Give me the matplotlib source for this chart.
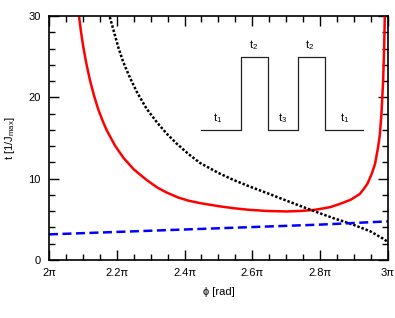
import matplotlib
matplotlib.use("Agg")
import matplotlib.pyplot as plt
from matplotlib.ticker import MultipleLocator, FuncFormatter

plt.rcParams['font.family'] = ['Liberation Sans', 'DejaVu Sans']
plt.rcParams['mathtext.default'] = 'regular'

# phi in units of pi
red_phi = [2.085, 2.0885, 2.095, 2.1013, 2.11, 2.121, 2.133, 2.1455, 2.16, 2.170, 2.195,
           2.22, 2.25, 2.288, 2.32, 2.347, 2.38, 2.411, 2.445, 2.50, 2.544, 2.588, 2.642,
           2.70, 2.74, 2.78, 2.799, 2.83, 2.858, 2.89, 2.917, 2.93, 2.94, 2.952, 2.962,
           2.971, 2.976, 2.981, 2.986, 2.989, 2.991, 2.993]
red_t = [31.1, 30.0, 27.9, 26.2, 24.2, 22.1, 20.2, 18.5, 16.95, 15.98, 14.05,
         12.55, 11.15, 9.84, 8.9, 8.3, 7.7, 7.3, 7.0, 6.62, 6.37, 6.18, 6.03,
         5.97, 6.02, 6.15, 6.27, 6.5, 6.89, 7.4, 8.11, 8.8, 9.4, 10.57, 11.8,
         13.85, 15.3, 17.95, 22.05, 26.15, 30.2, 37.0]

dot_phi = [2.176, 2.180, 2.2045, 2.219, 2.239, 2.26, 2.288, 2.32, 2.347, 2.377, 2.411,
           2.445, 2.50, 2.544, 2.588, 2.642, 2.69, 2.74, 2.775, 2.799, 2.839, 2.87,
           2.898, 2.947, 2.986, 3.0]
dot_t = [30.4, 29.8, 26.15, 24.35, 22.4, 20.6, 18.6, 16.85, 15.55, 14.3, 13.05,
         11.95, 10.7, 9.85, 9.1, 8.25, 7.47, 6.67, 6.12, 5.75, 5.15, 4.73,
         4.33, 3.55, 2.62, 2.22]

blue_phi = [2.0, 2.2, 2.4, 2.6, 2.8, 3.0]
blue_t = [3.15, 3.45, 3.75, 4.05, 4.35, 4.75]

# inset pulse sequence
pulse_phi = [2.450, 2.5655, 2.5655, 2.645, 2.645, 2.734, 2.734, 2.814, 2.814, 2.927]
pulse_t = [16, 16, 25, 25, 16, 16, 25, 25, 16, 16]
pulse_labels = ['t$_1$', 't$_2$', 't$_3$', 't$_2$', 't$_1$']
pulse_label_phi = [2.4985, 2.603, 2.688, 2.770, 2.873]
pulse_label_t = [17.5, 26.4, 17.5, 26.4, 17.5]

fig = plt.figure(figsize=(3.95, 3.18), dpi=100)
ax = fig.add_axes([0.124, 0.1824, 0.858, 0.7673])

ax.plot(red_phi, red_t, color='#ff0000', lw=1.8, solid_joinstyle='round')
ax.plot(dot_phi, dot_t, color='black', lw=1.8, linestyle=(0, (1, 0.75)))
ax.plot(blue_phi, blue_t, color='#0000ff', lw=1.8, linestyle=(0, (3.6, 1.8)))
ax.plot(pulse_phi, pulse_t, color='#222222', lw=0.9)
for lab, px, py in zip(pulse_labels, pulse_label_phi, pulse_label_t):
    ax.text(px, py, lab, ha='center', va='center', fontsize=8)

ax.set_xlim(2.0, 3.0)
ax.set_ylim(0, 30)
ax.xaxis.set_major_locator(MultipleLocator(0.2))
ax.xaxis.set_minor_locator(MultipleLocator(0.05))
ax.yaxis.set_major_locator(MultipleLocator(10))
ax.yaxis.set_minor_locator(MultipleLocator(2))

def fmt(v, pos):
    s = f"{v:.1f}"
    if s.endswith('.0'):
        s = s[:-2]
    return s + 'π'
ax.xaxis.set_major_formatter(FuncFormatter(fmt))

ax.tick_params(which='both', direction='in', top=True, right=True, labelsize=8, width=1.0)
ax.tick_params(which='major', length=7, pad=6)
ax.tick_params(which='minor', length=4)
for s in ax.spines.values():
    s.set_linewidth(1.2)

ax.set_xlabel('ϕ [rad]', fontsize=8, labelpad=6)
ax.set_ylabel('t [1/J$_{max}$]', fontsize=8, labelpad=8)

fig.savefig('out.png', dpi=100)
